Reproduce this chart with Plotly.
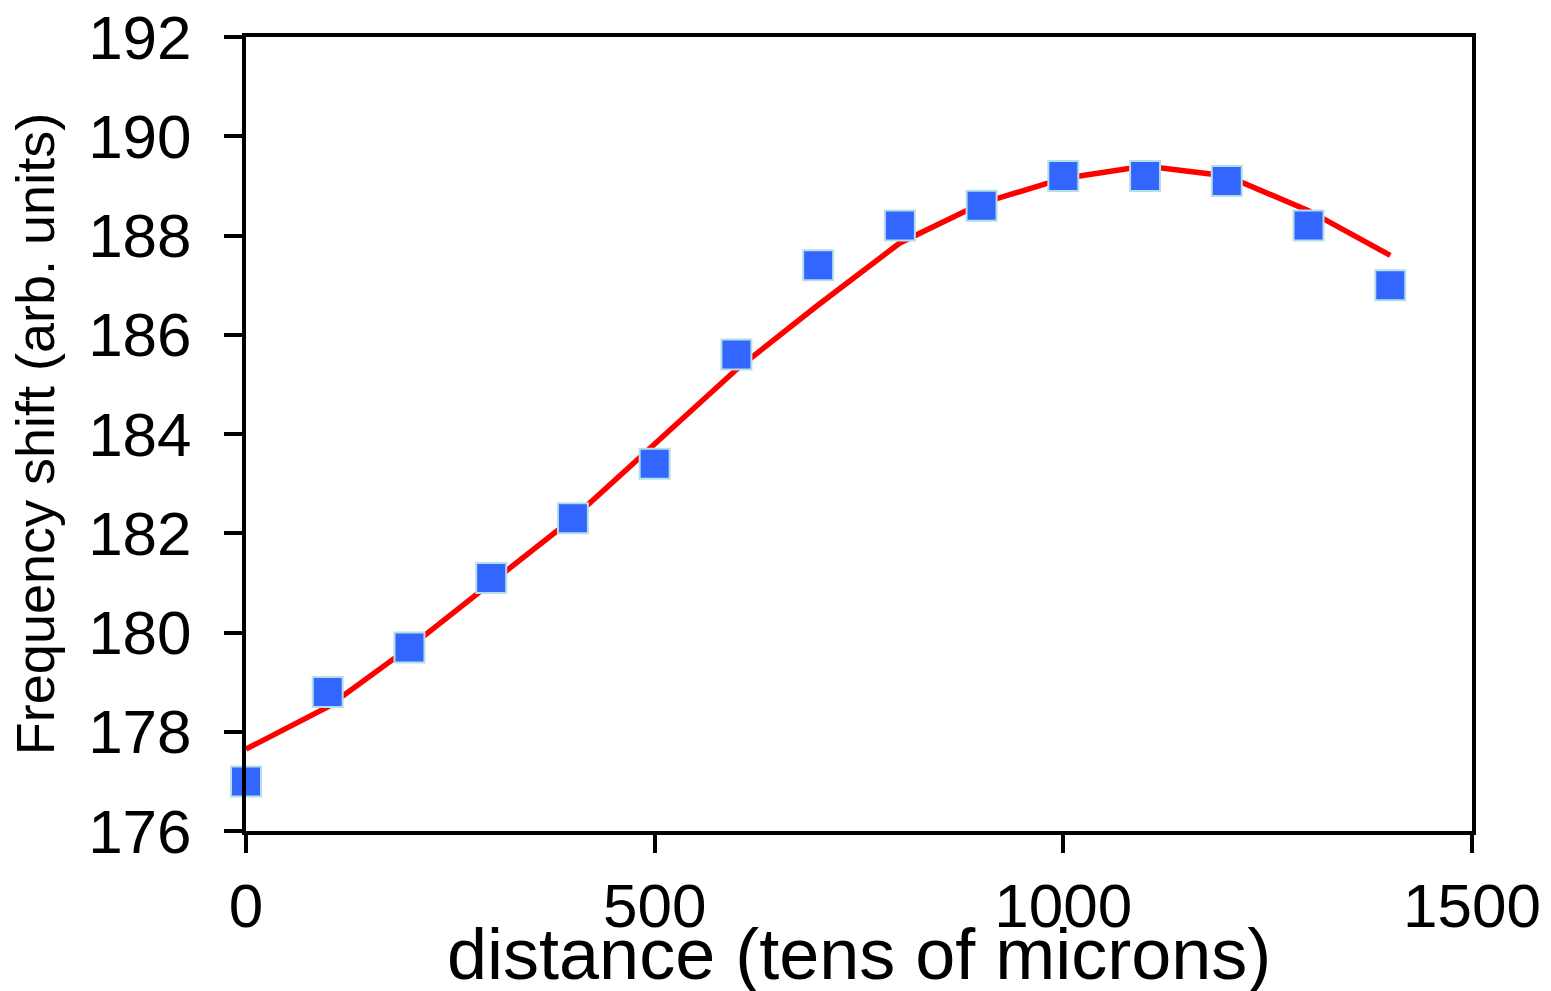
import plotly.graph_objects as go

distance = [0, 100, 200, 300, 400, 500, 600, 700, 800, 900, 1000, 1100, 1200, 1300, 1400]
freq_shift = [177.0, 178.8, 179.7, 181.1, 182.3, 183.4, 185.6, 187.4, 188.2, 188.6, 189.2, 189.2, 189.1, 188.2, 187.0]
fit_shift = [177.65, 178.5, 179.7, 181.0, 182.3, 183.8, 185.3, 186.6, 187.85, 188.65, 189.15, 189.4, 189.2, 188.5, 187.6]

x_ticks = [0, 500, 1000, 1500]
y_ticks = [176, 178, 180, 182, 184, 186, 188, 190, 192]

FONT = "Arial, Liberation Sans, sans-serif"

fig = go.Figure()
fig.add_trace(go.Scatter(
    x=distance, y=fit_shift, mode="lines",
    line=dict(color="#FF0000", width=5.5),
    cliponaxis=False, showlegend=False,
))
fig.add_trace(go.Scatter(
    x=distance, y=freq_shift, mode="markers",
    marker=dict(symbol="square", size=30, color="#3366FF",
                line=dict(color="#B5DFE6", width=2)),
    cliponaxis=False, showlegend=False,
))

axis_common = dict(
    showgrid=False, zeroline=False, showline=True, linecolor="black",
    linewidth=4, mirror=True, ticks="outside", ticklen=18, tickwidth=4,
    tickcolor="black", tickfont=dict(family=FONT, size=62, color="black"),
    ticklabeloverflow="allow",
)

fig.update_xaxes(range=[0, 1500], tickvals=x_ticks, ticklabelstandoff=0, **axis_common)
fig.update_yaxes(range=[176, 192], tickvals=y_ticks, ticklabelstandoff=20, **axis_common)

fig.add_annotation(
    text="distance (tens of microns)", xref="paper", yref="paper",
    x=0.5, y=-0.155, xanchor="center", yanchor="middle", showarrow=False,
    font=dict(family=FONT, size=72, color="black"),
)
fig.add_annotation(
    text="Frequency shift (arb. units)", xref="paper", yref="paper",
    x=-0.172, y=0.5, xanchor="center", yanchor="middle", showarrow=False,
    textangle=-90, font=dict(family=FONT, size=54, color="black"),
)

fig.update_layout(
    width=1543, height=983,
    margin=dict(l=238, r=79, t=29, b=160, autoexpand=False),
    plot_bgcolor="white", paper_bgcolor="white",
)

fig.write_html("out.html")
